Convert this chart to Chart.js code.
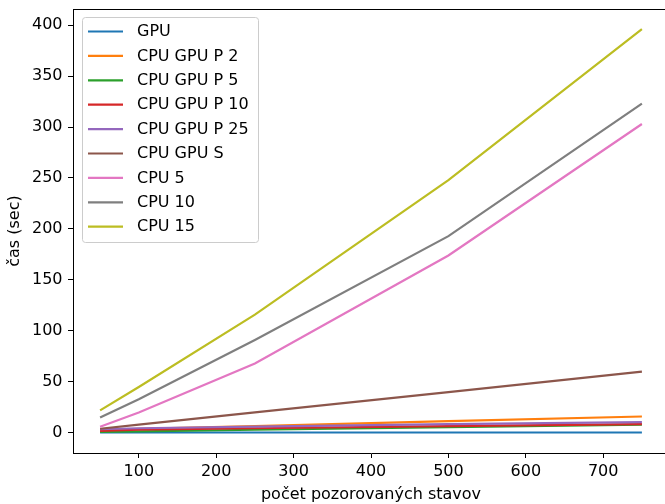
<!DOCTYPE html>
<html>
<head>
<meta charset="utf-8">
<script src="https://cdn.jsdelivr.net/npm/chart.js@4/dist/chart.umd.min.js"></script>
<style>
  html, body { margin: 0; padding: 0; overflow: hidden; background: #fff; }
  #wrap { width: 672px; height: 504px; }
</style>
</head>
<body>
<div id="wrap"><canvas id="myChart" width="672" height="504"></canvas></div>
<script>
var states = [50, 100, 250, 500, 750];

var gpu      = [0.3, 0.3, 0.3, 0.3, 0.3];
var cpuGpuP2 = [3, 4, 6.5, 11.5, 16];
var cpuGpuP5 = [1, 1.5, 3, 5.5, 8];
var cpuGpuP10 = [2, 3, 4.5, 6.5, 8.5];
var cpuGpuP25 = [3.5, 4.5, 6, 8.5, 10.5];
var cpuGpuS  = [4, 8, 20, 40, 60];
var cpu5     = [6, 20, 68, 174, 303];
var cpu10    = [15, 33, 91, 193, 323];
var cpu15    = [22, 45, 116, 248, 396];

var seriesNames = ["GPU", "CPU GPU P 2", "CPU GPU P 5", "CPU GPU P 10", "CPU GPU P 25", "CPU GPU S", "CPU 5", "CPU 10", "CPU 15"];
var seriesData = [gpu, cpuGpuP2, cpuGpuP5, cpuGpuP10, cpuGpuP25, cpuGpuS, cpu5, cpu10, cpu15];
var colors = ["#1f77b4", "#ff7f0e", "#2ca02c", "#d62728", "#9467bd", "#8c564b", "#e377c2", "#7f7f7f", "#bcbd22"];

var xTicks = [100, 200, 300, 400, 500, 600, 700];
var yTicks = [0, 50, 100, 150, 200, 250, 300, 350, 400];

var FONT = "DejaVu Sans";
var FS = 16;

// matplotlib-like frame + legend inside the plot
var mplPlugin = {
    id: 'mpl',
    afterDraw: function(chart) {
        var c = chart.ctx, a = chart.chartArea;
        c.save();
        c.strokeStyle = "#000";
        c.lineWidth = 1;
        c.beginPath();
        c.moveTo(a.left, a.top + 0.5);
        c.lineTo(a.right, a.top + 0.5);
        c.moveTo(a.right - 0.5, a.top);
        c.lineTo(a.right - 0.5, a.bottom);
        c.stroke();

        // legend box
        var bx = 82.5, by = 17.5, bw = 176, bh = 225, r = 3;
        c.fillStyle = "rgba(255,255,255,0.8)";
        c.strokeStyle = "#cccccc";
        c.beginPath();
        c.moveTo(bx + r, by);
        c.arcTo(bx + bw, by, bx + bw, by + bh, r);
        c.arcTo(bx + bw, by + bh, bx, by + bh, r);
        c.arcTo(bx, by + bh, bx, by, r);
        c.arcTo(bx, by, bx + bw, by, r);
        c.closePath();
        c.fill();
        c.stroke();

        c.font = FS + "px '" + FONT + "'";
        c.textBaseline = "middle";
        c.fillStyle = "#000";
        chart.data.datasets.forEach(function(ds, i) {
            var y = 31.5 + i * 24.4;
            c.strokeStyle = ds.borderColor;
            c.lineWidth = 2.2;
            c.beginPath();
            c.moveTo(88, y);
            c.lineTo(123, y);
            c.stroke();
            c.fillText(ds.label, 137, y + 0.5);
        });
        c.restore();
    }
};

var ctx = document.getElementById("myChart");
var myChart = new Chart(ctx, {
    type: 'line',
    data: {
        datasets: seriesNames.map(function(name, i) {
            return {
                label: name,
                data: states.map(function(x, j) { return {x: x, y: seriesData[i][j]}; }),
                borderColor: colors[i],
                backgroundColor: colors[i],
                borderWidth: 2.2,
                pointRadius: 0,
                fill: false,
                tension: 0,
                order: seriesNames.length - i
            };
        })
    },
    options: {
        responsive: false,
        animation: false,
        layout: { padding: { top: 9, right: 3, left: 0, bottom: 0 } },
        plugins: {
            legend: { display: false },
            tooltip: { enabled: false }
        },
        scales: {
            x: {
                type: 'linear',
                min: 15,
                max: 785,
                afterBuildTicks: function(s) { s.ticks = xTicks.map(function(v) { return {value: v}; }); },
                afterFit: function(s) { s.height = 51; s.paddingLeft = 0; s.paddingRight = 0; },
                grid: { drawOnChartArea: false, drawTicks: true, tickLength: 5, color: "#000", tickWidth: 1 },
                border: { display: true, color: "#000", width: 1 },
                ticks: { color: "#000", padding: 4, maxRotation: 0, font: { family: FONT, size: FS } },
                title: { display: true, text: "počet pozorovaných stavov", color: "#000", padding: { top: 0, bottom: 0 }, font: { family: FONT, size: FS } }
            },
            y: {
                type: 'linear',
                min: -19.8,
                max: 415.8,
                afterBuildTicks: function(s) { s.ticks = yTicks.map(function(v) { return {value: v}; }); },
                afterFit: function(s) { s.width = 73; s.paddingTop = 0; s.paddingBottom = 0; },
                grid: { drawOnChartArea: false, drawTicks: true, tickLength: 5, color: "#000", tickWidth: 1 },
                border: { display: true, color: "#000", width: 1 },
                ticks: { color: "#000", padding: 5.5, font: { family: FONT, size: FS } },
                title: { display: true, text: "čas (sec)", color: "#000", padding: { top: 5, bottom: 0 }, font: { family: FONT, size: FS } }
            }
        }
    },
    plugins: [mplPlugin]
});
</script>
</body>
</html>
